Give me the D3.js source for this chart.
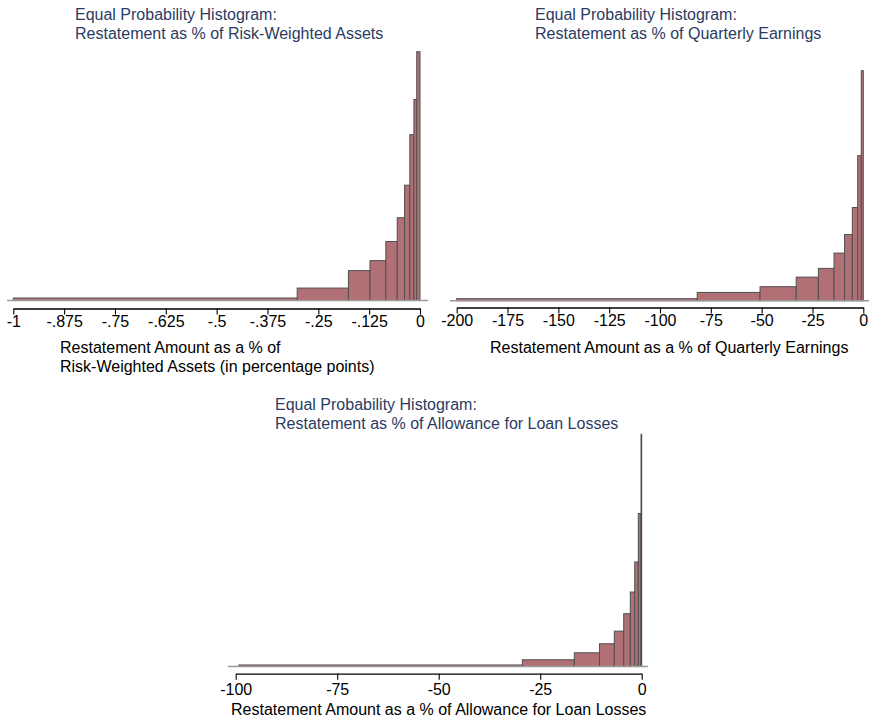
<!DOCTYPE html>
<html>
<head>
<meta charset="utf-8">
<script src="https://cdn.jsdelivr.net/npm/d3@7"></script>
<style>
  html, body { margin: 0; padding: 0; background: #ffffff; }
  svg { display: block; }
  text { font-family: "Liberation Sans", Arial, Helvetica, sans-serif; }
</style>
</head>
<body>
<svg id="chart" width="869" height="722"></svg>
<script>
// Equal-probability histograms: each bin holds one decile of restatements.
// Bin edges (x values) and bar heights (density) for each measure.

// Restatement as % of risk-weighted assets
const rwaEdges = [-1, -0.302, -0.176, -0.123, -0.084, -0.056, -0.038, -0.025, -0.015, -0.008, 0];
const rwaDensity = [0.156, 0.78, 1.875, 2.5, 3.7, 5.19, 7.23, 10.4, 12.6, 15.6];
const rwaTicks = [-1, -0.875, -0.75, -0.625, -0.5, -0.375, -0.25, -0.125, 0];
const rwaTickLabels = ["-1", "-.875", "-.75", "-.625", "-.5", "-.375", "-.25", "-.125", "0"];

// Restatement as % of quarterly earnings
const qeEdges = [-200, -81.7, -50.8, -33.0, -22.1, -14.4, -9.2, -5.4, -2.75, -1.0, 0];
const qeDensity = [0.0008, 0.0033, 0.0056, 0.0094, 0.0129, 0.0190, 0.0264, 0.0372, 0.0579, 0.0918];
const qeTicks = [-200, -175, -150, -125, -100, -75, -50, -25, 0];
const qeTickLabels = ["-200", "-175", "-150", "-125", "-100", "-75", "-50", "-25", "0"];

// Restatement as % of allowance for loan losses
const allEdges = [-99.2, -29.4, -16.6, -10.4, -6.75, -4.43, -2.81, -1.72, -0.84, -0.17, 0];
const allDensity = [0.0018, 0.0079, 0.0161, 0.0267, 0.0415, 0.0620, 0.0874, 0.1227, 0.1796, 0.2726];
const allTicks = [-100, -75, -50, -25, 0];
const allTickLabels = ["-100", "-75", "-50", "-25", "0"];

const TITLE_COLOR = "#2b3b63";
const BAR_FILL = "#b07075";
const BAR_STROKE = "#505050";
const FS = 16;

const svg = d3.select("#chart");

function panel(cfg) {
  const g = svg.append("g");
  const x = d3.scaleLinear().domain(cfg.xDomain).range([cfg.x0, cfg.x1]);
  const y = d3.scaleLinear().domain([0, d3.max(cfg.density)]).range([cfg.base, cfg.top]);

  const bins = cfg.density.map((d, i) => ({ lo: cfg.edges[i], hi: cfg.edges[i + 1], d }));

  g.selectAll("rect.bar")
    .data(bins)
    .join("rect")
    .attr("class", "bar")
    .attr("x", b => x(b.lo))
    .attr("width", b => Math.max(0.6, x(b.hi) - x(b.lo)))
    .attr("y", b => y(b.d))
    .attr("height", b => y(0) - y(b.d))
    .attr("fill", BAR_FILL)
    .attr("stroke", BAR_STROKE)
    .attr("stroke-width", 1);

  // plot-region baseline
  g.append("line")
    .attr("x1", cfg.gx0).attr("x2", cfg.gx1)
    .attr("y1", y(0)).attr("y2", y(0))
    .attr("stroke", "#9a9a9a")
    .attr("stroke-width", 1.5);

  // x axis
  const axis = d3.axisBottom(x)
    .tickValues(cfg.ticks)
    .tickFormat((d, i) => cfg.tickLabels[i])
    .tickSize(6)
    .tickSizeOuter(0);
  const ag = g.append("g")
    .attr("transform", `translate(0,${cfg.axisY})`)
    .call(axis);
  ag.select(".domain").attr("stroke", "#000").attr("stroke-width", 1.3);
  ag.selectAll(".tick line").attr("stroke", "#000").attr("stroke-width", 1.1);
  ag.selectAll(".tick text")
    .attr("dy", null)
    .attr("y", cfg.labelY - cfg.axisY)
    .attr("fill", "#000")
    .attr("font-size", FS)
    .attr("font-family", "Liberation Sans, Arial, sans-serif");

  // title (two lines, left-justified)
  const t = g.append("text")
    .attr("x", cfg.titleX)
    .attr("y", cfg.titleY)
    .attr("fill", TITLE_COLOR)
    .attr("font-size", FS);
  cfg.title.forEach((line, i) => {
    t.append("tspan").attr("x", cfg.titleX).attr("y", cfg.titleY + i * 19).text(line);
  });

  // axis title: block of lines, left-justified, placed at its start
  const at = g.append("text")
    .attr("fill", "#000")
    .attr("font-size", FS);
  cfg.xTitle.forEach((line, i) => {
    at.append("tspan").attr("x", cfg.xTitleX).attr("y", cfg.xTitleY + i * 19).text(line);
  });
}

panel({
  edges: rwaEdges, density: rwaDensity, ticks: rwaTicks, tickLabels: rwaTickLabels,
  xDomain: [-1, 0], x0: 13.3, x1: 420, base: 300.5, top: 51.7,
  gx0: 7, gx1: 428, axisY: 308.5, labelY: 326.5,
  title: ["Equal Probability Histogram:", "Restatement as % of Risk-Weighted Assets"],
  titleX: 75, titleY: 20,
  xTitle: ["Restatement Amount as a % of", "Risk-Weighted Assets (in percentage points)"],
  xTitleX: 60, xTitleY: 353
});

panel({
  edges: qeEdges, density: qeDensity, ticks: qeTicks, tickLabels: qeTickLabels,
  xDomain: [-200, 0], x0: 456.7, x1: 863.3, base: 300.7, top: 70.7,
  gx0: 450, gx1: 870, axisY: 307.5, labelY: 326,
  title: ["Equal Probability Histogram:", "Restatement as % of Quarterly Earnings"],
  titleX: 535, titleY: 20,
  xTitle: ["Restatement Amount as a % of Quarterly Earnings"],
  xTitleX: 490, xTitleY: 353
});

panel({
  edges: allEdges, density: allDensity, ticks: allTicks, tickLabels: allTickLabels,
  xDomain: [-100, 0], x0: 235.7, x1: 641.7, base: 666.5, top: 434.3,
  gx0: 228, gx1: 648, axisY: 673.7, labelY: 695,
  title: ["Equal Probability Histogram:", "Restatement as % of Allowance for Loan Losses"],
  titleX: 275, titleY: 409.5,
  xTitle: ["Restatement Amount as a % of Allowance for Loan Losses"],
  xTitleX: 231, xTitleY: 715
});
</script>
</body>
</html>
